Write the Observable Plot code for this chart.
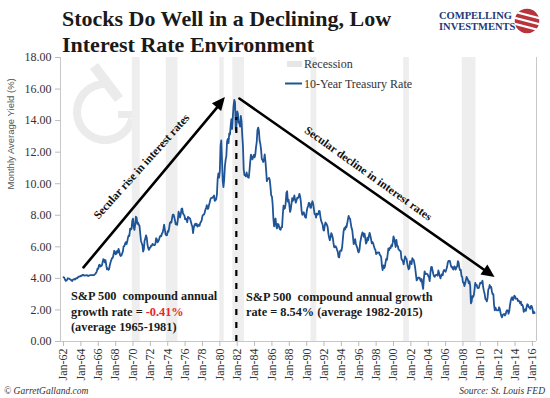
<!DOCTYPE html>
<html><head><meta charset="utf-8">
<script src="https://cdn.jsdelivr.net/npm/d3@7"></script>
<script src="https://cdn.jsdelivr.net/npm/@observablehq/plot@0.6"></script>
<style>
body{margin:0;background:#fff;}
#wrap{position:relative;width:550px;height:398px;overflow:hidden;}
svg text{white-space:pre;}
</style></head><body><div id="wrap"></div>
<script>
// ---------- DATA ----------
const startYear = 1962; // first monthly value = Jan 1962
const rates1960s = [
 4.08,4.04,3.93,3.84,3.87,3.91,4.01,3.98,3.98,3.93,3.92,3.86,
 3.83,3.92,3.93,3.97,3.93,3.99,4.02,4.00,4.08,4.11,4.12,4.13,
 4.17,4.15,4.22,4.23,4.20,4.17,4.19,4.19,4.20,4.19,4.15,4.18,
 4.19,4.21,4.21,4.20,4.21,4.21,4.20,4.25,4.29,4.35,4.45,4.62,
 4.61,4.83,4.87,4.75,4.78,4.81,5.02,5.22,5.18,5.01,5.16,4.84,
 4.58,4.63,4.54,4.59,4.85,5.02,5.16,5.28,5.30,5.48,5.75,5.70,
 5.53,5.56,5.74,5.64,5.87,5.72,5.50,5.42,5.46,5.58,5.70,6.03,
 6.04,6.19,6.30,6.17,6.32,6.57,6.72,6.69,7.16,7.10,7.14,7.65];
const rates1970s = [
 7.79,7.24,7.07,7.39,7.91,7.84,7.46,7.53,7.39,7.33,6.84,6.39,
 6.24,6.11,5.70,5.83,6.39,6.52,6.73,6.58,6.14,5.93,5.81,5.93,
 5.95,6.08,6.07,6.19,6.13,6.11,6.11,6.21,6.55,6.48,6.28,6.36,
 6.46,6.64,6.71,6.67,6.85,6.90,7.13,7.40,7.09,6.79,6.73,6.74,
 6.99,6.96,7.21,7.51,7.58,7.54,7.81,8.04,8.04,7.90,7.68,7.43,
 7.50,7.39,7.73,8.23,8.06,7.86,8.06,8.40,8.43,8.14,8.05,8.00,
 7.74,7.79,7.73,7.56,7.90,7.86,7.83,7.77,7.59,7.41,7.29,6.87,
 7.21,7.39,7.46,7.37,7.46,7.28,7.33,7.40,7.34,7.52,7.58,7.69,
 7.96,8.03,8.04,8.15,8.35,8.46,8.64,8.41,8.42,8.64,8.81,9.01,
 9.10,9.10,9.12,9.18,9.25,8.91,8.95,9.03,9.33,10.30,10.65,10.39];
const rates1980s = [
 10.80,12.41,12.75,11.47,10.18,9.78,10.25,11.10,11.51,11.75,12.68,12.84,
 12.57,13.19,13.12,13.68,14.10,13.47,14.28,14.94,15.32,15.15,13.39,13.72,
 14.59,14.43,13.86,13.87,13.62,14.30,13.95,13.06,12.34,10.91,10.55,10.54,
 10.46,10.72,10.51,10.40,10.38,10.85,11.38,11.85,11.65,11.54,11.69,11.83,
 11.67,11.84,12.32,12.63,13.41,13.56,13.36,12.72,12.52,12.16,11.57,11.50,
 11.38,11.51,11.86,11.43,10.85,10.16,10.31,10.33,10.37,10.24,9.78,9.26,
 9.19,8.70,7.78,7.30,7.71,7.80,7.30,7.17,7.45,7.43,7.25,7.11,
 7.08,7.25,7.25,8.02,8.61,8.40,8.45,8.76,9.42,9.52,8.86,8.99,
 8.67,8.21,8.37,8.72,9.09,8.92,9.06,9.26,8.98,8.80,8.96,9.11,
 9.09,9.17,9.36,9.18,8.86,8.28,8.02,8.11,8.19,8.01,7.87,7.84];
const rates1990s = [
 8.21,8.47,8.59,8.79,8.76,8.48,8.47,8.75,8.89,8.72,8.39,8.08,
 8.09,7.85,8.11,8.04,8.07,8.28,8.27,7.90,7.65,7.53,7.42,7.09,
 7.03,7.34,7.54,7.48,7.39,7.26,6.84,6.59,6.42,6.59,6.87,6.77,
 6.60,6.26,5.98,5.97,6.04,5.96,5.81,5.68,5.36,5.33,5.72,5.77,
 5.75,5.97,6.48,6.97,7.18,7.10,7.30,7.24,7.46,7.74,7.96,7.81,
 7.78,7.47,7.20,7.06,6.63,6.17,6.28,6.49,6.20,6.04,5.93,5.71,
 5.65,5.81,6.27,6.51,6.74,6.91,6.87,6.64,6.83,6.53,6.20,6.30,
 6.58,6.42,6.69,6.89,6.71,6.49,6.22,6.30,6.21,6.03,5.88,5.81,
 5.54,5.57,5.65,5.64,5.65,5.50,5.46,5.34,4.81,4.53,4.83,4.65,
 4.72,5.00,5.23,5.18,5.54,5.90,5.79,5.94,5.92,6.11,6.03,6.28];
const rates2000s = [
 6.66,6.52,6.26,5.99,6.44,6.10,6.05,5.83,5.80,5.74,5.72,5.24,
 5.16,5.10,4.89,5.14,5.39,5.28,5.24,4.97,4.73,4.57,4.65,5.09,
 5.04,4.91,5.28,5.21,5.16,4.93,4.65,4.26,3.87,3.94,4.05,4.03,
 4.05,3.90,3.81,3.96,3.57,3.33,3.98,4.45,4.27,4.29,4.30,4.27,
 4.15,4.08,3.83,4.35,4.72,4.73,4.50,4.28,4.13,4.10,4.19,4.23,
 4.22,4.17,4.50,4.34,4.14,4.00,4.18,4.26,4.20,4.46,4.54,4.47,
 4.42,4.57,4.72,4.99,5.11,5.11,5.09,4.88,4.72,4.73,4.60,4.56,
 4.76,4.72,4.56,4.69,4.75,5.10,5.00,4.67,4.52,4.53,4.15,4.10,
 3.74,3.74,3.51,3.68,3.88,4.10,4.01,3.89,3.69,3.81,3.53,2.42,
 2.52,2.87,2.82,2.93,3.29,3.72,3.56,3.59,3.40,3.39,3.40,3.59];
const rates2010s = [
 3.73,3.69,3.73,3.85,3.42,3.20,3.01,2.70,2.65,2.54,2.76,3.29,
 3.39,3.58,3.41,3.46,3.17,3.00,3.00,2.30,1.98,2.15,2.01,1.98,
 1.97,1.97,2.17,2.05,1.80,1.62,1.53,1.68,1.72,1.75,1.65,1.72,
 1.91,1.98,1.96,1.76,1.93,2.30,2.58,2.74,2.81,2.62,2.72,2.90,
 2.86,2.71,2.72,2.71,2.56,2.60,2.54,2.42,2.53,2.30,2.33,2.21,
 1.88,1.98,2.04,1.94,2.20,2.36,2.32,2.17,2.17,2.07,2.26,2.24,
 2.09,1.78,1.89,1.81];

const recessionStarts = [1969.92, 1973.83, 1980.0, 1981.5, 1990.5, 2001.17, 2007.92];
const recessionEnds   = [1970.83, 1975.17, 1980.5, 1982.83, 1991.17, 2001.83, 2009.5];

const xTicks = [1962,1964,1966,1968,1970,1972,1974,1976,1978,1980,1982,1984,1986,1988,1990,
                1992,1994,1996,1998,2000,2002,2004,2006,2008,2010,2012,2014,2016];
const yTicks = [0,2,4,6,8,10,12,14,16,18];

const arrowLabels = ["Secular rise in interest rates", "Secular decline in interest rates"];
const arrowX1 = [1964.3, 1982.25], arrowY1 = [4.7, 15.4];
const arrowX2 = [1980.64, 2011.7], arrowY2 = [15.46, 4.06];
const labelX = [1970.98, 1997.1], labelY = [11.09, 10.65], labelAngle = [-48, 35.5];
const dividerYear = 1981.9, dividerTop = 14.2;

// ---------- BUILD ----------
const rates = [...rates1960s, ...rates1970s, ...rates1980s, ...rates1990s, ...rates2000s, ...rates2010s];
const series = rates.map((v, i) => ({t: startYear + i / 12, v}));
const recessions = recessionStarts.map((s, i) => ({s, e: recessionEnds[i]}));
const arrows = arrowLabels.map((l, i) => ({x1: arrowX1[i], y1: arrowY1[i], x2: arrowX2[i], y2: arrowY2[i], lx: labelX[i], ly: labelY[i], a: labelAngle[i], l}));
const xDomain = [1961.65, 2016.47];
const blue = "#1f5597";

const chart = Plot.plot({
  width: 550, height: 398,
  marginLeft: 60, marginRight: 14, marginTop: 57, marginBottom: 57,
  style: {fontFamily: "Liberation Serif, serif", fontSize: "12px", color: "#333", background: "transparent", overflow: "visible"},
  x: {domain: xDomain},
  y: {domain: [0, 18]},
  marks: [
    Plot.rect(recessions, {x1: "s", x2: "e", y1: 0, y2: 18, fill: "#eeeeee"}),
    Plot.ruleY([0], {stroke: "#c8c8c8"}),
    Plot.ruleX([xDomain[0]], {stroke: "#c8c8c8"}),
    Plot.ruleX([xDomain[1]], {stroke: "#c8c8c8"}),
    Plot.axisY(yTicks, {tickFormat: d => d.toFixed(2), tickSize: 5, tickPadding: 4, stroke: "#bbb", fill: "#333", fontSize: 12, label: null}),
    Plot.axisX(xTicks, {tickFormat: d => "Jan-" + String(d).slice(2), tickRotate: -90, tickSize: 5, tickPadding: 2, stroke: "#bbb", fill: "#333", fontSize: 12, label: null}),
    Plot.line(series, {x: "t", y: "v", stroke: blue, strokeWidth: 1.8}),
    Plot.ruleX([dividerYear], {y1: 0, y2: dividerTop, stroke: "#000", strokeWidth: 2.2, strokeDasharray: "6,7"}),
    Plot.arrow(arrows, {x1: "x1", y1: "y1", x2: "x2", y2: "y2", stroke: "#000", strokeWidth: 2.6, headLength: 0, insetEnd: 6}),
    Plot.text(arrows, {x: "lx", y: "ly", text: "l", rotate: "a", fontWeight: "bold", fontSize: 11.5, fill: "#111"}),
    Plot.text(["Monthly Average Yield (%)"], {frameAnchor: "left", dx: -50, dy: -10, rotate: -90, fontFamily: "Liberation Sans, sans-serif", fontSize: 9.5, fill: "#555"})
  ]
});
document.getElementById("wrap").appendChild(chart);

// ---------- DECORATION / TEXT ----------
const svg = d3.select(chart);
const sx = chart.scale("x"), sy = chart.scale("y");
// filled arrow heads, positioned through the chart's own scales
arrows.forEach(a => {
  const px1 = sx.apply(a.x1), py1 = sy.apply(a.y1), px2 = sx.apply(a.x2), py2 = sy.apply(a.y2);
  const L = Math.hypot(px2 - px1, py2 - py1), ux = (px2 - px1) / L, uy = (py2 - py1) / L;
  const hl = 13, hw = 6;
  const bx = px2 - ux * hl, by = py2 - uy * hl;
  svg.append("polygon").attr("fill", "#000")
    .attr("points", [[px2, py2], [bx - uy * hw, by + ux * hw], [bx + uy * hw, by - ux * hw]].map(p => p.join(",")).join(" "));
});
// watermark (under everything)
const wm = svg.insert("g", ":first-child").attr("fill", "#ebebeb").attr("stroke", "none");
wm.append("path").attr("transform", "translate(105,112)")
  .attr("d", d3.arc()({innerRadius: 24, outerRadius: 32, startAngle: 0.58 * Math.PI, endAngle: 2.02 * Math.PI}));
wm.append("line").attr("x1", 94).attr("y1", 66).attr("x2", 119).attr("y2", 99).attr("stroke", "#ebebeb").attr("stroke-width", 10);
wm.append("rect").attr("x", 118).attr("y", 111).attr("width", 16).attr("height", 7);

const ov = svg.append("g").attr("font-family", "Liberation Serif, serif").attr("text-anchor", "start");
// title
const title = ov.append("text").attr("font-size", 22).attr("font-weight", "bold").attr("fill", "#1a1a1a");
title.append("tspan").attr("x", 62).attr("y", 26).text("Stocks Do Well in a Declining, Low");
title.append("tspan").attr("x", 62).attr("y", 52).text("Interest Rate Environment");
// logo
const logo = ov.append("text").attr("font-size", 10.5).attr("font-weight", "bold").attr("fill", "#24397a");
logo.append("tspan").attr("x", 439).attr("y", 19).text("COMPELLING");
logo.append("tspan").attr("x", 439).attr("y", 30).text("INVESTMENTS");
const defs = svg.append("defs");
defs.append("clipPath").attr("id", "lc").append("circle").attr("cx", 527).attr("cy", 21).attr("r", 12.5);
const lg = ov.append("g").attr("clip-path", "url(#lc)");
lg.append("circle").attr("cx", 527).attr("cy", 21).attr("r", 12.5).attr("fill", "#b8343c");
[-6, 0, 6].forEach(o => lg.append("line").attr("x1", 512).attr("y1", 17 + o).attr("x2", 542).attr("y2", 25 + o).attr("stroke", "#fff").attr("stroke-width", 2.2));
// legend
ov.append("rect").attr("x", 287).attr("y", 61).attr("width", 15).attr("height", 6).attr("fill", "#e6e6e6");
ov.append("text").attr("x", 304).attr("y", 67.5).attr("font-size", 12).attr("fill", "#333").text("Recession");
ov.append("line").attr("x1", 285).attr("x2", 302).attr("y1", 83.5).attr("y2", 83.5).attr("stroke", blue).attr("stroke-width", 2);
ov.append("text").attr("x", 304).attr("y", 87.5).attr("font-size", 12).attr("fill", "#333").text("10-Year Treasury Rate");
// annotations
const a1 = ov.append("text").attr("font-size", 12.3).attr("font-weight", "bold").attr("fill", "#1a1a1a");
a1.append("tspan").attr("x", 71).attr("y", 300).text("S&P 500  compound annual");
a1.append("tspan").attr("x", 71).attr("y", 315.5).text("growth rate = ");
a1.append("tspan").attr("fill", "#e8262b").text("-0.41%");
a1.append("tspan").attr("x", 71).attr("y", 330.5).text("(average 1965-1981)");
const a2 = ov.append("text").attr("font-size", 12.3).attr("font-weight", "bold").attr("fill", "#1a1a1a");
a2.append("tspan").attr("x", 246).attr("y", 300.5).text("S&P 500  compound annual growth");
a2.append("tspan").attr("x", 246).attr("y", 316).text("rate = 8.54% (average 1982-2015)");
// footer
ov.append("text").attr("x", 4).attr("y", 394).attr("font-size", 9.5).attr("font-style", "italic").attr("fill", "#333").text("© GarretGalland.com");
ov.append("text").attr("x", 545).attr("y", 394).attr("text-anchor", "end").attr("font-size", 9.5).attr("font-style", "italic").attr("fill", "#333").text("Source: St. Louis FED");
</script>
</body></html>
